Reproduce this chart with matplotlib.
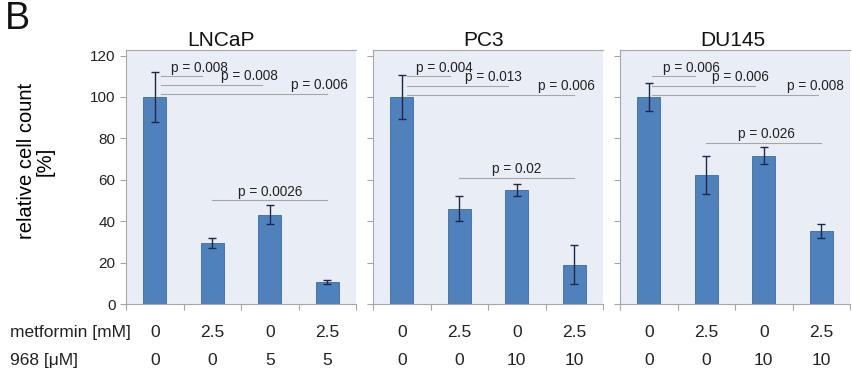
import matplotlib
matplotlib.use("Agg")
import matplotlib.pyplot as plt

plt.rcParams['font.family'] = ['Liberation Sans', 'DejaVu Sans']

# ---- data ----
cell_lines = ["LNCaP", "PC3", "DU145"]
metformin = [["0", "2.5", "0", "2.5"], ["0", "2.5", "0", "2.5"], ["0", "2.5", "0", "2.5"]]
inhib_968 = [["0", "0", "5", "5"], ["0", "0", "10", "10"], ["0", "0", "10", "10"]]

lncap_mean = [100, 29.5, 43.2, 10.8]
lncap_err = [12, 2.4, 4.6, 1.0]
pc3_mean = [100, 46, 55, 19]
pc3_err = [10.5, 6, 3, 9.5]
du145_mean = [100, 62.4, 71.6, 35.2]
du145_err = [7, 9.3, 4.2, 3.4]

means = [lncap_mean, pc3_mean, du145_mean]
errs = [lncap_err, pc3_err, du145_err]

# significance brackets: (x start, x end, y, label, text x)
lncap_p = [(0.1, 0.83, 110, "p = 0.008", 0.77),
           (0.1, 1.87, 106, "p = 0.008", 1.65),
           (0.1, 3.0, 101.5, "p = 0.006", 2.86),
           (1.0, 3.0, 50, "p = 0.0026", 2.0)]
pc3_p = [(0.09, 0.84, 110, "p = 0.004", 0.75),
         (0.09, 1.85, 105.5, "p = 0.013", 1.6),
         (0.09, 3.0, 101, "p = 0.006", 2.86),
         (1.0, 3.0, 61, "p = 0.02", 2.0)]
du145_p = [(0.05, 0.8, 110, "p = 0.006", 0.75),
           (0.05, 1.85, 105.5, "p = 0.006", 1.6),
           (0.05, 2.94, 101, "p = 0.008", 2.9),
           (1.0, 3.0, 78, "p = 0.026", 2.05)]
pvals = [lncap_p, pc3_p, du145_p]

bar_color = "#4f81bd"
bg = "#e9eef6"
grey = "#a6a6a6"

fig = plt.figure(figsize=(8.52, 3.69), dpi=100)
lefts = [126 / 852, 373 / 852, 620 / 852]
bottom = 1 - 304 / 369
height = 254 / 369
width = 230 / 852
title_x = [0.415, 0.48, 0.49]

for i, name in enumerate(cell_lines):
    ax = fig.add_axes([lefts[i], bottom, width, height])
    ax.set_facecolor(bg)
    x = list(range(len(means[i])))
    ax.bar(x, means[i], width=0.4, color=bar_color, edgecolor="#3c6aa3", linewidth=0.6, zorder=2)
    ax.errorbar(x, means[i], yerr=errs[i], fmt="none", ecolor="#1c2a48", elinewidth=1,
                capsize=3, capthick=1, zorder=3)
    ax.set_xlim(-0.5, 3.5)
    ax.set_ylim(0, 122.7)
    ax.set_yticks(range(0, 121, 20))
    ax.set_xticks([-0.5, 0.5, 1.5, 2.5, 3.5])
    ax.set_xticklabels([])
    ax.tick_params(axis="both", direction="out", length=4, color=grey, width=0.8,
                   labelsize=11, labelcolor="#222222")
    if i > 0:
        ax.set_yticklabels([])
    for s in ["left", "bottom", "top"]:
        ax.spines[s].set_color(grey)
        ax.spines[s].set_linewidth(0.8)
    ax.spines["right"].set_visible(False)
    ax.set_title(name, fontsize=15, pad=1.5, color="#111111", x=title_x[i])

    for x1, x2, y, label, tx in pvals[i]:
        ax.plot([x1, x2], [y, y], color=grey, lw=0.8, zorder=1)
        ax.text(tx, y + 0.8, label, ha="center", va="bottom", fontsize=9.8, color="#222222", zorder=4)

    trans = ax.get_xaxis_transform()
    for k in x:
        ax.text(k, -0.114, metformin[i][k], transform=trans, ha="center", va="center",
                fontsize=12.5, color="#222222")
        ax.text(k, -0.2205, inhib_968[i][k], transform=trans, ha="center", va="center",
                fontsize=12.5, color="#222222")

    if i == 0:
        ax.set_ylabel("relative cell count\n[%]", fontsize=14.5, linespacing=0.95)
        ax.yaxis.set_label_coords(-0.31, 0.563)

fig.text(0.012, 1 - 333 / 369, "metformin [mM]", ha="left", va="center", fontsize=12.5, color="#222222")
fig.text(0.012, 1 - 360 / 369, "968 [μM]", ha="left", va="center", fontsize=12.5, color="#222222")
fig.text(0.006, 1 - 19 / 369, "B", ha="left", va="center", fontsize=27, color="#111111")

fig.savefig("out.png", dpi=100)
